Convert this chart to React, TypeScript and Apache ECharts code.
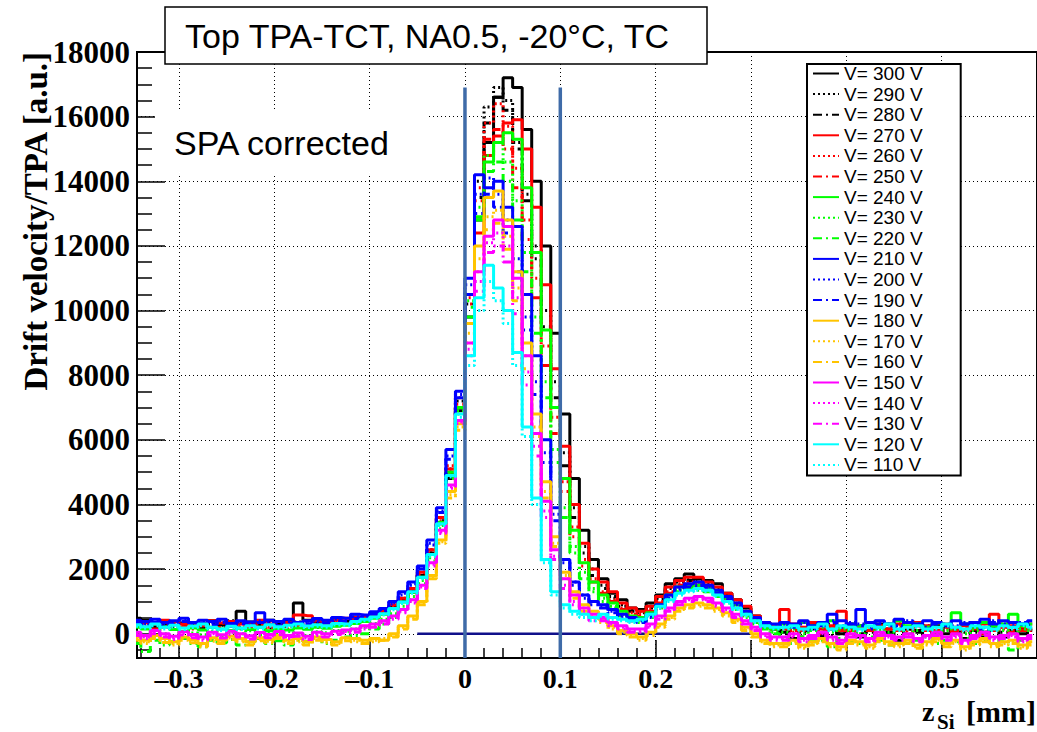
import React, { useEffect, useRef } from 'react';
import * as echarts from 'echarts';

// Histogram binning (bin width 0.01 mm, first bin centre -0.345 mm)
const BIN_START = -0.345;
const BIN_WIDTH = 0.01;

const voltages = [300, 290, 280, 270, 260, 250, 240, 230, 220, 210, 200, 190, 180, 170, 160, 150, 140, 130, 120, 110];

const v300 = [480, 420, 350, 300, 380, 330, 260, 310, 400, 280, 330, 700, 360, 300, 420, 350, 380, 950, 420, 330, 400, 460, 380, 520, 480,
  560, 680, 820, 1050, 1350, 1800, 2500, 3400, 4800, 6900,
  9800, 12800, 15200, 16600, 17200, 16900, 15600, 14000, 12000, 9300, 6800, 4800, 3200, 2300,
  1700, 1250, 1050, 800, 750, 950, 1200, 1550, 1700, 1850, 1700, 1650, 1550, 1250, 1050, 800, 550, 350, 150,
  50, -150, 100, 250, -50, 150, 0, 200, -100, 100, 300, 50, -200, 150, 100, -50, 250, 0, 150, -150, 100, 50, 200, -100, 100, 0, 150];
const v290 = [420, 380, 300, 250, 320, 280, 350, 220, 300, 260, 400, 330, 280, 240, 350, 290, 320, 360, 300, 280, 350, 410, 380, 450, 500,
  600, 720, 880, 1100, 1400, 1900, 2600, 3600, 5100, 7200,
  10500, 14000, 16300, 16900, 16500, 15200, 13600, 12000, 10000, 7800, 5600, 3900, 2700, 2000,
  1500, 1150, 900, 750, 700, 850, 1100, 1450, 1650, 1700, 1650, 1550, 1400, 1200, 950, 700, 500, 300, 200,
  100, 250, 50, 200, 150, 300, 0, 150, 250, 100, 200, 50, 300, 150, 100, 250, 0, 200, 150, 50, 250, 100, 200, 300, 50, 150, 200];
const v280 = [350, 300, 220, 280, 200, 250, 300, 180, 260, 220, 280, 200, 300, 240, 180, 270, 230, 300, 250, 200, 320, 280, 350, 400, 430,
  520, 640, 800, 1000, 1300, 1800, 2500, 3500, 5000, 7000,
  10200, 13500, 15800, 16600, 16200, 15000, 13400, 11600, 9500, 7300, 5200, 3600, 2500, 1800,
  1400, 1100, 850, 700, 650, 800, 1050, 1400, 1600, 1650, 1600, 1500, 1350, 1150, 900, 650, 450, 300, 150,
  0, 100, -100, 150, 50, -50, 100, 200, 0, 50, -100, 150, 100, 0, 50, 200, -50, 100, 0, 150, 50, -100, 100, 50, 0, 150, 100];
const v270 = [400, 350, 300, 420, 380, 300, 350, 280, 400, 330, 380, 300, 350, 420, 300, 380, 350, 580, 560, 400, 350, 420, 480, 500, 520,
  600, 720, 900, 1100, 1400, 1900, 2600, 3600, 5100, 7000,
  9600, 12400, 14800, 15400, 15800, 15900, 15000, 13200, 10800, 8200, 5800, 4000, 2800, 2000,
  1600, 1300, 950, 800, 700, 850, 1150, 1450, 1650, 1750, 1750, 1600, 1450, 1250, 1050, 850, 550, 350, 250,
  750, 300, 200, 350, 150, 250, 700, 300, 200, 350, 250, 150, 300, 200, 350, 250, 100, 300, 200, 250, 150, 300, 600, 200, 250, 100, 300];
const v260 = [300, 250, 350, 200, 280, 220, 300, 250, 200, 330, 260, 220, 280, 300, 200, 250, 320, 280, 230, 300, 270, 350, 320, 400, 450,
  560, 680, 860, 1080, 1400, 1900, 2600, 3600, 5200, 7300,
  10400, 13800, 15800, 16400, 15700, 14400, 12800, 11000, 8900, 6700, 4700, 3300, 2300, 1700,
  1300, 1050, 800, 650, 600, 750, 1000, 1300, 1550, 1600, 1550, 1500, 1350, 1150, 950, 700, 450, 300, 150,
  200, 100, 150, 250, 50, 200, 150, 100, 250, 200, 50, 150, 200, 100, 250, 150, 50, 200, 100, 150, 250, 50, 150, 200, 100, 250, 150];
const v250 = [250, 200, 150, 280, 180, 220, 150, 250, 200, 180, 230, 150, 200, 260, 180, 220, 150, 250, 200, 230, 280, 250, 300, 350, 380,
  500, 620, 800, 1000, 1300, 1800, 2500, 3500, 5000, 7100,
  10200, 13400, 15300, 15600, 15000, 13800, 12200, 10400, 8300, 6200, 4400, 3000, 2100, 1600,
  1250, 1000, 750, 600, 550, 700, 950, 1250, 1500, 1550, 1500, 1450, 1300, 1100, 900, 650, 400, 250, 150,
  150, 50, 100, 200, 0, 150, 100, 50, 200, 100, 0, 150, 100, 50, 200, 100, 0, 150, 50, 100, 200, 0, 100, 150, 50, 200, 100];
const v240 = [200, 150, 100, 220, 130, 80, 180, 120, 200, 150, 100, 170, 130, 200, 90, 160, 120, 180, 140, 200, 170, 230, 260, 320, 380,
  480, 600, 780, 980, 1280, 1750, 2450, 3450, 5000, 7000,
  9800, 12800, 14600, 15200, 15500, 15300, 13800, 11800, 9400, 7000, 4800, 3200, 2200, 1600,
  1200, 950, 700, 550, 500, 650, 900, 1200, 1450, 1500, 1500, 1400, 1300, 1100, 900, 650, 450, 250, 150,
  300, 200, 350, 250, 300, 400, 200, 300, 250, 350, 200, 300, 400, 250, 300, 200, 350, 250, 650, 300, 200, 350, 250, 300, 600, 250, 300];
const v230 = [50, -50, 100, 0, -80, 60, 20, -30, 80, -60, 40, 0, 90, -40, 30, -20, 70, 10, -50, 60, 30, 100, 80, 150, 200,
  320, 450, 620, 850, 1150, 1650, 2350, 3350, 4900, 6900,
  10300, 13200, 14800, 15200, 14600, 13400, 11800, 9800, 7800, 5700, 3900, 2700, 1900, 1400,
  1100, 850, 600, 450, 400, 550, 850, 1100, 1350, 1450, 1400, 1350, 1200, 1000, 800, 550, 350, 200, 50,
  50, 150, 0, 100, 200, 50, 150, 100, 0, 200, 100, 50, 150, 0, 100, 200, 50, 100, 150, 0, 100, 50, 200, 100, 0, 150, 100];
const v220 = [-300, -550, -200, -350, -250, -150, -300, -400, -200, -280, -180, -350, -250, -150, -300, -220, -350, -200, -250, -150, -300, -200, -100, -50, 0,
  150, 300, 500, 750, 1050, 1550, 2250, 3250, 4800, 6800,
  10100, 12900, 14300, 14600, 14000, 12800, 11200, 9300, 7300, 5300, 3600, 2500, 1700, 1300,
  1000, 800, 550, 400, 350, 500, 800, 1050, 1300, 1400, 1350, 1300, 1150, 950, 750, 500, 300, 150, 0,
  -150, -300, -100, -250, -200, -400, -150, -250, -300, -100, -200, -350, -150, -250, -200, -100, -300, -200, -250, -150, -300, -200, -100, -250, -500, -200, -150];
const v210 = [420, 380, 450, 350, 400, 480, 350, 420, 380, 450, 320, 400, 360, 650, 420, 380, 450, 350, 400, 470, 420, 500, 480, 600, 580,
  680, 780, 1000, 1300, 1600, 2100, 2900, 3900, 5700, 7500,
  11000, 14200, 13800, 14000, 13200, 12600, 10500, 8600, 6000, 3900, 2300, 1600, 1200, 1000,
  900, 750, 600, 500, 450, 600, 900, 1200, 1450, 1550, 1600, 1500, 1350, 1150, 950, 700, 500, 350, 300,
  350, 300, 400, 250, 350, 600, 400, 300, 750, 350, 400, 300, 450, 350, 300, 400, 350, 250, 400, 300, 350, 450, 300, 400, 350, 300, 400];
const v200 = [380, 320, 400, 300, 360, 420, 300, 380, 330, 400, 280, 360, 320, 400, 350, 300, 380, 330, 360, 420, 380, 450, 430, 520, 540,
  640, 750, 960, 1250, 1550, 2050, 2800, 3800, 5500, 7400,
  10800, 13600, 14100, 13600, 12800, 11600, 9800, 7800, 5600, 3700, 2300, 1600, 1200, 1000,
  850, 700, 550, 450, 400, 550, 850, 1150, 1400, 1500, 1500, 1450, 1300, 1100, 900, 650, 450, 300, 250,
  300, 250, 350, 200, 300, 400, 250, 350, 300, 200, 350, 300, 250, 400, 300, 200, 350, 300, 250, 350, 300, 200, 400, 300, 250, 350, 300];
const v190 = [330, 280, 350, 250, 300, 380, 260, 330, 280, 350, 240, 310, 270, 350, 300, 250, 330, 280, 310, 370, 330, 400, 380, 470, 500,
  600, 720, 920, 1200, 1500, 2000, 2750, 3750, 5400, 7300,
  10500, 13000, 13600, 13200, 12400, 11200, 9400, 7400, 5300, 3500, 2200, 1500, 1100, 900,
  800, 650, 500, 400, 350, 500, 800, 1100, 1350, 1450, 1450, 1400, 1250, 1050, 850, 600, 400, 250, 200,
  250, 200, 300, 150, 250, 350, 200, 300, 250, 150, 300, 250, 200, 350, 250, 150, 300, 250, 200, 300, 250, 150, 350, 250, 200, 300, 250];
const v180 = [-100, -200, -50, -150, -250, -100, -180, -300, -120, -200, -80, -150, -250, -120, -180, -50, -200, -150, -250, -100, -180, -250, -120, -150, -200,
  -150, -200, 0, 250, 550, 1000, 1800, 2900, 4400, 6500,
  9600, 12000, 13500, 13700, 12800, 11200, 9000, 6800, 4700, 3000, 1900, 1300, 900, 700,
  450, 250, 100, 0, -100, 50, 300, 550, 800, 900, 950, 900, 800, 650, 450, 200, 0, -200, -300,
  -300, -200, -350, -250, -150, -300, -400, -200, -250, -350, -150, -250, -300, -200, -350, -250, -150, -300, -200, -400, -250, -150, -300, -250, -200, -350, -250];
const v170 = [-150, -250, -100, -220, -300, -150, -230, -350, -180, -250, -130, -200, -300, -170, -230, -100, -250, -200, -300, -150, -230, -300, -170, -200, -250,
  -200, -150, -50, 200, 500, 950, 1750, 2850, 4300, 6400,
  9300, 11600, 12900, 13100, 12300, 10700, 8600, 6400, 4400, 2800, 1800, 1200, 800, 600,
  400, 200, 50, -50, -150, 0, 250, 500, 750, 850, 900, 850, 750, 600, 400, 150, -50, -250, -350,
  -350, -250, -400, -300, -200, -350, -450, -250, -300, -400, -200, -300, -350, -250, -400, -300, -200, -350, -250, -450, -300, -200, -350, -300, -250, -400, -300];
const v160 = [-200, -300, -150, -270, -350, -200, -280, -400, -230, -300, -180, -250, -350, -220, -280, -150, -300, -250, -350, -200, -280, -350, -220, -250, -300,
  -250, -200, -100, 150, 450, 900, 1700, 2800, 4200, 6300,
  9000, 11200, 12500, 12700, 11900, 10300, 8200, 6100, 4200, 2700, 1700, 1100, 700, 500,
  350, 150, 0, -100, -200, -50, 200, 450, 700, 800, 850, 800, 700, 550, 350, 100, -100, -300, -400,
  -400, -300, -450, -350, -250, -400, -500, -300, -350, -450, -250, -350, -400, -300, -450, -350, -250, -400, -300, -500, -350, -250, -400, -350, -300, -450, -350];
const v150 = [50, -50, 100, 0, -80, 60, -20, -100, 50, -30, 80, 0, -60, 40, -20, 70, -50, 20, -80, 50, 0, 80, 120, 150, 250,
  300, 400, 550, 750, 1050, 1500, 2200, 3200, 4600, 6600,
  9000, 11200, 12300, 12800, 12600, 11000, 8600, 6200, 4100, 2600, 1700, 1200, 800, 600,
  500, 350, 250, 150, 150, 300, 550, 800, 1000, 1100, 1150, 1100, 950, 800, 600, 400, 200, 0, -100,
  -100, 0, -150, -50, 50, -100, -200, 0, -50, -150, 50, -50, -100, 0, -150, -50, 50, -100, 0, -200, -50, 50, -100, -50, 0, -150, -50];
const v140 = [0, -100, 50, -50, -130, 10, -70, -150, 0, -80, 30, -50, -110, -10, -70, 20, -100, -30, -130, 0, -50, 30, 70, 100, 200,
  250, 350, 500, 700, 1000, 1450, 2150, 3150, 4550, 6550,
  8800, 10900, 12100, 12400, 12000, 10400, 8100, 5800, 3800, 2400, 1500, 1000, 700, 500,
  450, 300, 200, 100, 100, 250, 500, 750, 950, 1050, 1100, 1050, 900, 750, 550, 350, 150, -50, -150,
  -150, -50, -200, -100, 0, -150, -250, -50, -100, -200, 0, -100, -150, -50, -200, -100, 0, -150, -50, -250, -100, 0, -150, -100, -50, -200, -100];
const v130 = [-50, -150, 0, -100, -180, -40, -120, -200, -50, -130, -20, -100, -160, -60, -120, -30, -150, -80, -180, -50, -100, -20, 20, 50, 150,
  200, 300, 450, 650, 950, 1400, 2100, 3100, 4500, 6500,
  8600, 10600, 11800, 12000, 11500, 9900, 7700, 5500, 3600, 2300, 1400, 900, 600, 400,
  400, 250, 150, 50, 50, 200, 450, 700, 900, 1000, 1050, 1000, 850, 700, 500, 300, 100, -100, -200,
  -200, -100, -250, -150, -50, -200, -300, -100, -150, -250, -50, -150, -200, -100, -250, -150, -50, -200, -100, -300, -150, -50, -200, -150, -100, -250, -150];
const v120 = [280, 220, 300, 200, 260, 180, 240, 300, 200, 150, 230, 180, 250, 200, 280, 220, 260, 300, 240, 280, 250, 320, 300, 380, 450,
  520, 620, 780, 980, 1300, 1750, 2450, 3400, 4900, 6800,
  8600, 10400, 11400, 10700, 10000, 8700, 6400, 4200, 2300, 1300, 900, 700, 600, 500,
  600, 500, 450, 400, 450, 600, 850, 1050, 1250, 1350, 1400, 1350, 1200, 1000, 800, 600, 400, 250, 200,
  200, 250, 150, 200, 300, 150, 250, 200, 150, 250, 200, 300, 150, 200, 250, 150, 200, 300, 200, 150, 250, 200, 150, 250, 200, 300, 200];
const v110 = [230, 170, 250, 150, 210, 130, 190, 250, 150, 100, 180, 130, 200, 150, 230, 170, 210, 250, 190, 230, 200, 270, 250, 330, 400,
  480, 580, 740, 940, 1250, 1700, 2400, 3350, 4850, 6700,
  8300, 10000, 10900, 10300, 9600, 8300, 6100, 4000, 2200, 1200, 800, 600, 500, 400,
  550, 450, 400, 350, 400, 550, 800, 1000, 1200, 1300, 1350, 1300, 1150, 950, 750, 550, 350, 200, 150,
  150, 200, 100, 150, 250, 100, 200, 150, 100, 200, 150, 250, 100, 150, 200, 100, 150, 250, 150, 100, 200, 150, 100, 200, 150, 250, 150];

const seriesValues = [v300, v290, v280, v270, v260, v250, v240, v230, v220, v210, v200, v190, v180, v170, v160, v150, v140, v130, v120, v110];

const colorGroups = ['#000000', '#ff0000', '#00ff00', '#0000ff', '#ffc400', '#ff00ff', '#00ffff'];
const styleCycle = ['solid', 'dotted', 'dashdot'];

// Marker lines (mm) and zero reference segment
const markerX = [0, 0.1];
const markerTop = 16900;
const zeroSegment = [-0.05, 0.3];

const DOTTED = [2, 3];
const DASHDOT = [9, 4, 2, 4];

export default function App() {
  const ref = useRef<HTMLDivElement>(null);

  useEffect(() => {
    if (!ref.current) return;
    const chart = echarts.init(ref.current, null, { renderer: 'svg' });
    const binCenters = v300.map((_, i) => Number((BIN_START + i * BIN_WIDTH).toFixed(3)));

    const histSeries = voltages.map((v, i) => {
      const color = colorGroups[Math.floor(i / 3)];
      const st = styleCycle[i % 3];
      const type = st === 'solid' ? 'solid' : st === 'dotted' ? DOTTED : DASHDOT;
      return {
        name: `V= ${v} V`,
        type: 'line',
        step: 'middle',
        symbol: 'none',
        z: 2,
        data: binCenters.map((x, j) => [x, seriesValues[i][j]]),
        lineStyle: { color, width: 3, type },
        itemStyle: { color: 'rgba(0,0,0,0)' },
      };
    });

    const zeroLine = {
      name: 'zero',
      type: 'line',
      symbol: 'none',
      z: 1,
      data: [[zeroSegment[0], 0], [zeroSegment[1], 0]],
      lineStyle: { color: '#10108a', width: 2.5 },
    };

    const markers = markerX.map((mx, i) => ({
      name: 'marker' + i,
      type: 'line',
      symbol: 'none',
      z: 5,
      data: [[mx, -750], [mx, markerTop]],
      lineStyle: { color: '#3f6ba8', width: 3.5 },
    }));

    const xFmt = (val: number) => {
      if (Math.abs(val) < 1e-9) return '0';
      const s = Math.abs(val).toFixed(1);
      return val < 0 ? '\u2013' + s : s;
    };

    chart.setOption({
      animation: false,
      backgroundColor: '#ffffff',
      grid: {
        left: 137, top: 52, width: 905, height: 606,
        show: true, borderColor: '#000', borderWidth: 2, backgroundColor: '#fff',
      },
      xAxis: {
        type: 'value', min: -0.344, max: 0.6, splitNumber: 10,
        axisLine: { show: true, onZero: false, lineStyle: { color: '#000', width: 2 } },
        axisTick: { show: true, inside: true, length: 18, lineStyle: { color: '#000', width: 1.5 } },
        minorTick: { show: true, splitNumber: 5, length: 10, lineStyle: { color: '#000', width: 1.5 } },
        splitLine: { show: true, lineStyle: { color: '#000', type: [1, 3], width: 1 } },
        axisLabel: {
          showMinLabel: false, showMaxLabel: false, margin: 6, color: '#000',
          fontFamily: 'Liberation Serif', fontWeight: 'bold', fontSize: 28, formatter: xFmt,
        },
      },
      yAxis: {
        type: 'value', min: -750, max: 18000, splitNumber: 9,
        axisLine: { show: true, onZero: false, lineStyle: { color: '#000', width: 2 } },
        axisTick: { show: true, inside: true, length: 28, lineStyle: { color: '#000', width: 1.5 } },
        minorTick: { show: true, splitNumber: 4, length: 15, lineStyle: { color: '#000', width: 1.5 } },
        splitLine: { show: true, lineStyle: { color: '#000', type: [1, 3], width: 1 } },
        axisLabel: {
          showMinLabel: false, margin: 7, color: '#000',
          fontFamily: 'Liberation Serif', fontWeight: 'bold', fontSize: 31,
          formatter: (val: number) => String(val),
        },
      },
      legend: {
        data: voltages.map((v) => `V= ${v} V`),
        orient: 'vertical', left: 807, top: 64,
        itemWidth: 26, itemHeight: 14, itemGap: 1.6,
        padding: [0, 38, 1, 5],
        borderColor: '#000', borderWidth: 2, backgroundColor: '#fff',
        selectedMode: false,
        itemStyle: { opacity: 0 },
        textStyle: { fontFamily: 'Liberation Sans', fontSize: 19, color: '#000' },
      },
      graphic: [
        {
          type: 'rect', z: 100,
          shape: { x: 165, y: 7, width: 542, height: 57 },
          style: { fill: '#fff', stroke: '#000', lineWidth: 1.5 },
        },
        {
          type: 'text', z: 101, x: 185, y: 36,
          style: {
            text: 'Top TPA-TCT, NA0.5, -20°C, TC', fill: '#000',
            fontFamily: 'Liberation Sans', fontSize: 34, verticalAlign: 'middle',
          },
        },
        {
          type: 'rect', z: 100,
          shape: { x: 155, y: 112, width: 273, height: 61 },
          style: { fill: '#fff' },
        },
        {
          type: 'text', z: 101, x: 174, y: 143,
          style: {
            text: 'SPA corrected', fill: '#000',
            fontFamily: 'Liberation Sans', fontSize: 34, verticalAlign: 'middle',
          },
        },
        {
          type: 'text', z: 101, x: 36, y: 52, rotation: Math.PI / 2,
          style: {
            text: 'Drift velocity/TPA [a.u.]', fill: '#000', align: 'right', verticalAlign: 'middle',
            fontFamily: 'Liberation Serif', fontWeight: 'bold', fontSize: 33,
          },
        },
        {
          type: 'text', z: 101, x: 922, y: 725,
          style: {
            text: 'z', fill: '#000', verticalAlign: 'bottom',
            fontFamily: 'Liberation Serif', fontWeight: 'bold', fontSize: 28,
          },
        },
        {
          type: 'text', z: 101, x: 937, y: 732,
          style: {
            text: 'Si', fill: '#000', verticalAlign: 'bottom',
            fontFamily: 'Liberation Serif', fontWeight: 'bold', fontSize: 21,
          },
        },
        {
          type: 'text', z: 101, x: 1036, y: 726,
          style: {
            text: '[mm]', fill: '#000', align: 'right', verticalAlign: 'bottom',
            fontFamily: 'Liberation Serif', fontWeight: 'bold', fontSize: 30,
          },
        },
      ],
      series: [zeroLine, ...histSeries, ...markers],
    });

    return () => chart.dispose();
  }, []);

  return (
    <div
      ref={ref}
      style={{ position: 'fixed', left: 0, top: 0, width: 1037, height: 732, background: '#fff' }}
    />
  );
}
